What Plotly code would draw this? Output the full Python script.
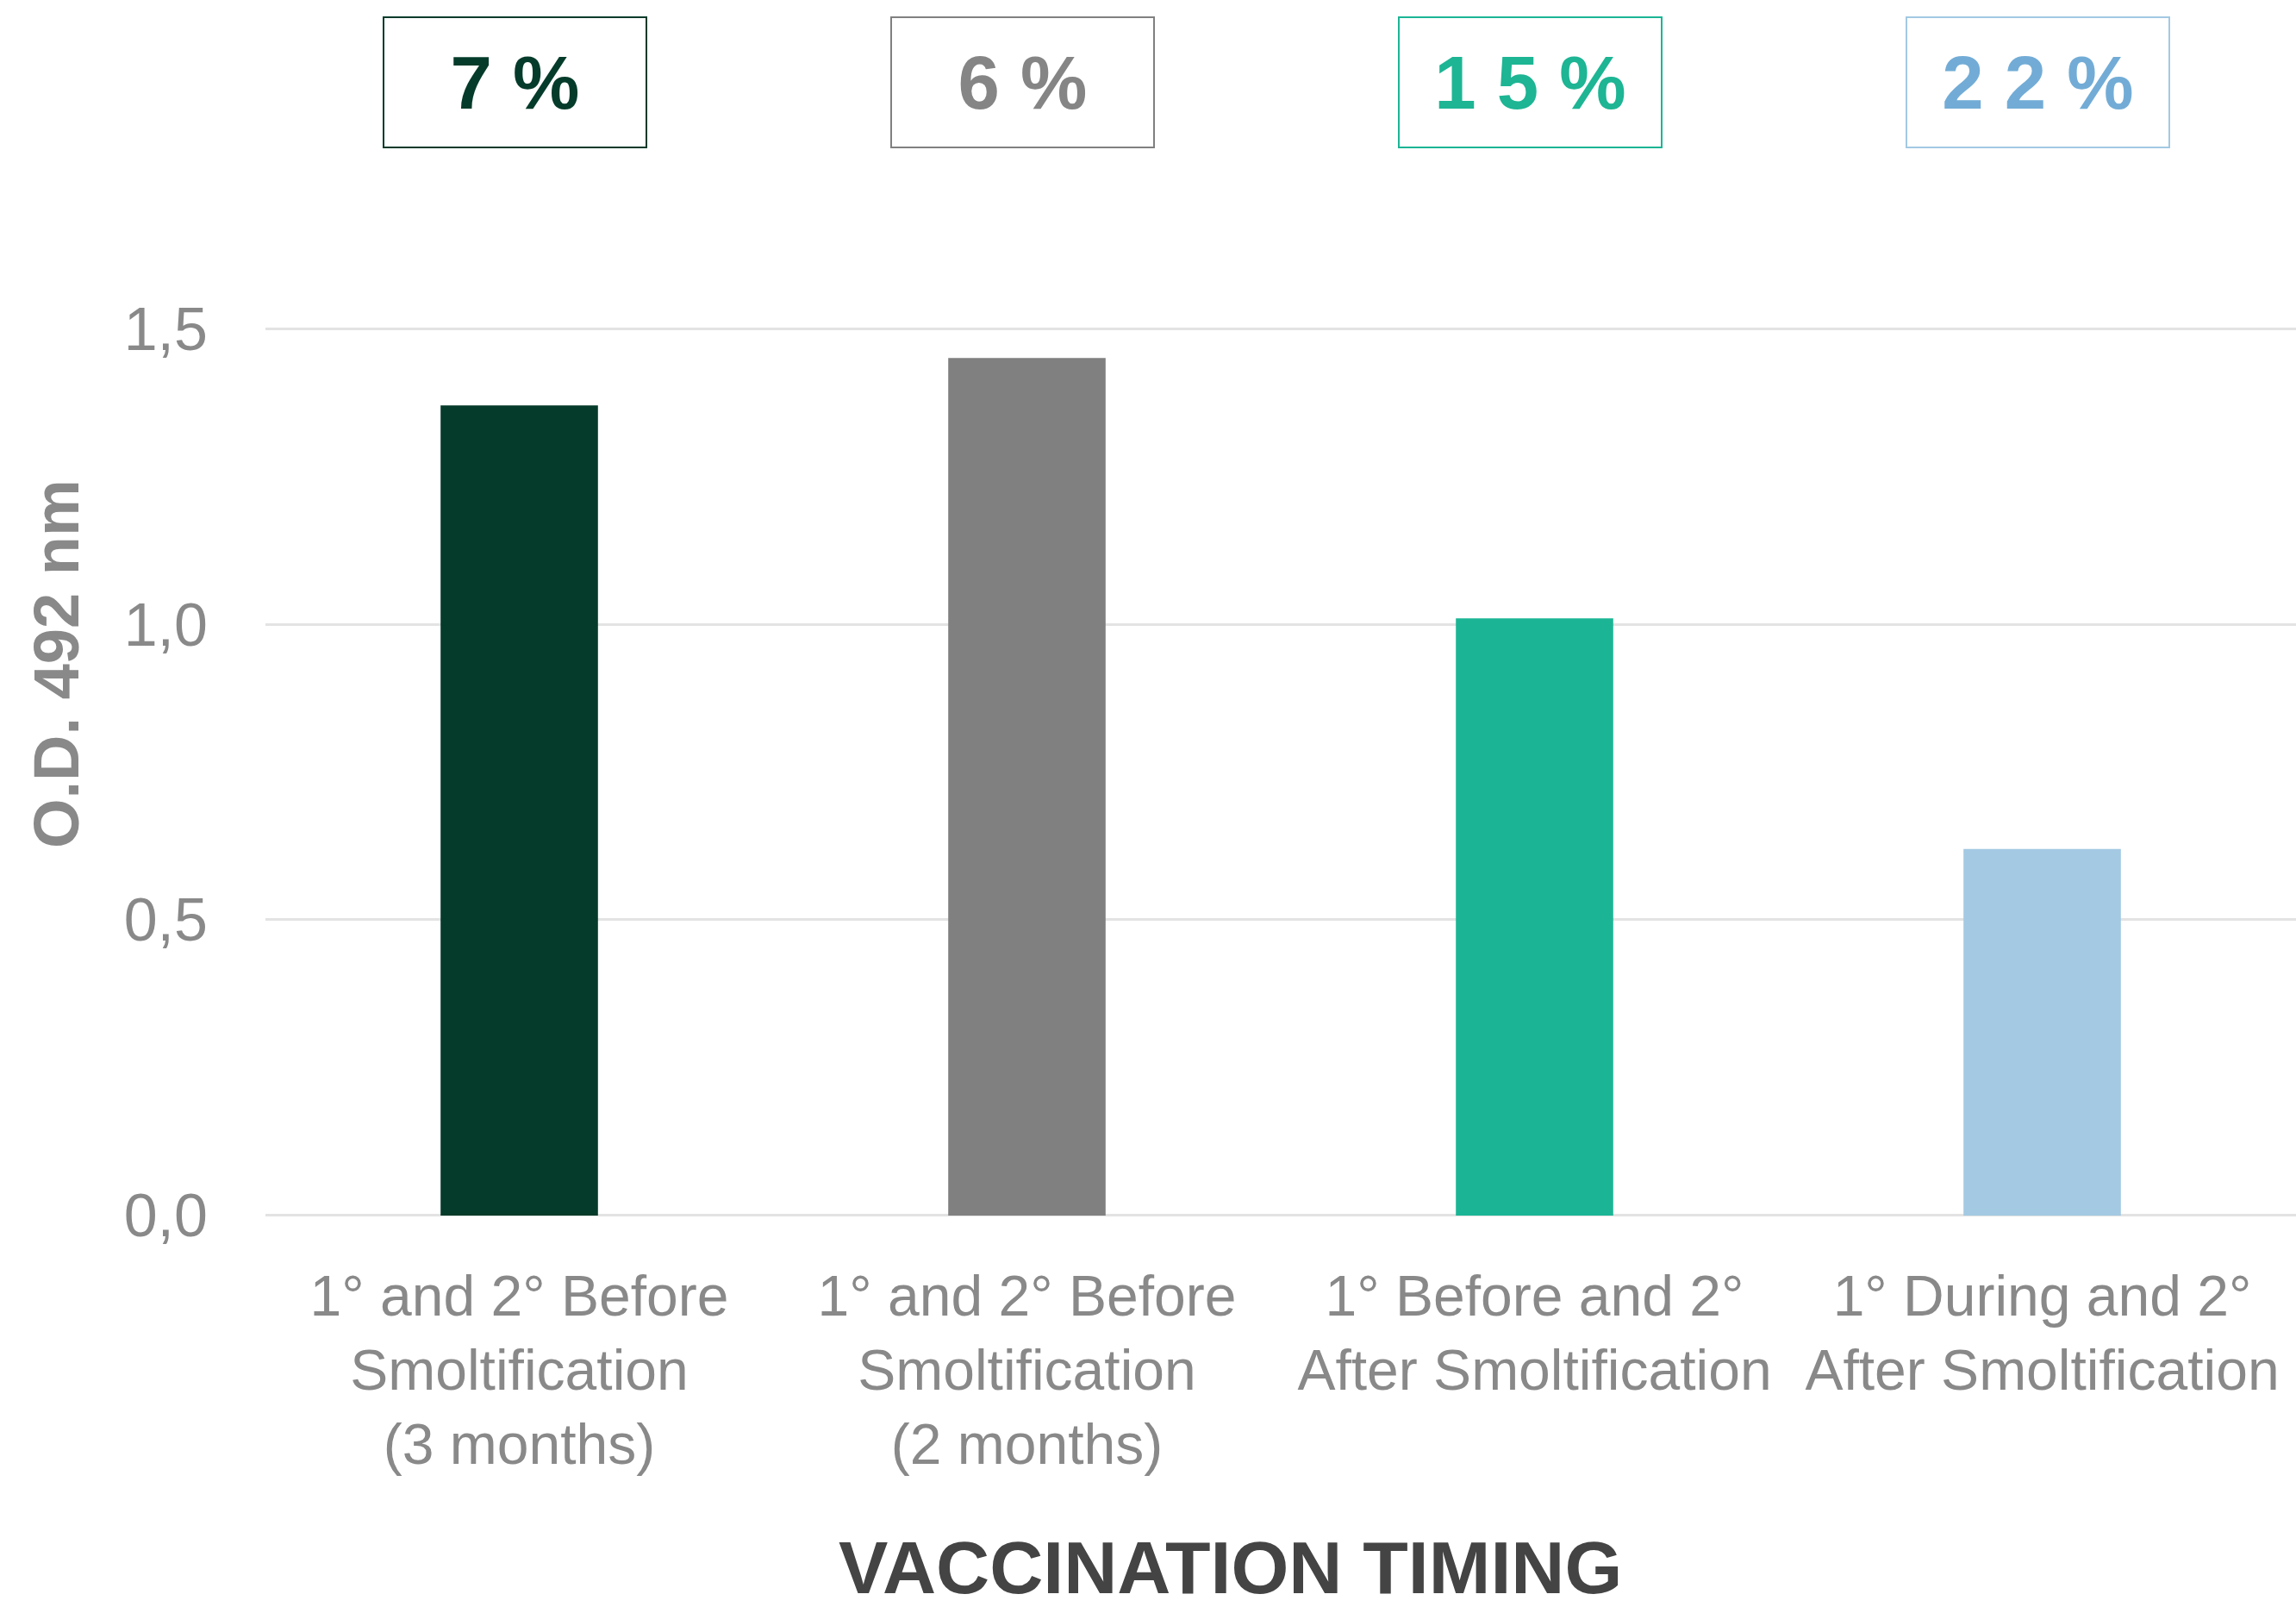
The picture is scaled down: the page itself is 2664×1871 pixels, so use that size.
import plotly.graph_objects as go

# data
categories = [
    "1° and 2° Before<br>Smoltification<br>(3 months)",
    "1° and 2° Before<br>Smoltification<br>(2 months)",
    "1° Before and 2°<br>After Smoltification",
    "1° During and 2°<br>After Smoltification",
]
od_values = [1.37, 1.45, 1.01, 0.62]
percent_labels = ["7 %", "6 %", "1 5 %", "2 2 %"]
y_ticks = [0.0, 0.5, 1.0, 1.5]
y_tick_labels = ["0,0", "0,5", "1,0", "1,5"]

bar_colors = ["#053b2a", "#808080", "#1bb595", "#a3c9e3"]
text_colors = ["#053b2a", "#858585", "#1db594", "#72acd6"]

SANS = "Liberation Sans, Arial, sans-serif"
GRAY = "#898989"

W, H = 2664, 1871
M_L, M_R, M_T, M_B = 308, 0, 379, 459
plot_h = H - M_T - M_B

fig = go.Figure()
fig.add_trace(go.Bar(
    x=categories,
    y=od_values,
    width=0.31,
    marker=dict(color=bar_colors, line=dict(width=0)),
    showlegend=False,
    hoverinfo="skip",
))

# boxed percentages above each bar
for cat, txt, col, bcol in zip(categories, percent_labels, text_colors, bar_colors):
    fig.add_annotation(
        x=cat, xref="x",
        y=1 + (M_T - 95) / plot_h, yref="paper",
        xshift=-5,
        text=f"<b>{txt}</b>",
        showarrow=False,
        font=dict(family=SANS, size=87, color=col),
        width=303, height=149,
        bordercolor=bcol, borderwidth=2, borderpad=0,
        xanchor="center", yanchor="middle",
    )

# y axis title
fig.add_annotation(
    x=(65 - M_L) / (W - M_L - M_R), xref="paper",
    y=(H - M_B - 770) / plot_h, yref="paper",
    text="<b>O.D. 492 nm</b>",
    textangle=-90,
    showarrow=False,
    font=dict(family=SANS, size=74, color=GRAY),
    xanchor="center", yanchor="middle",
)

# x axis title
fig.add_annotation(
    x=(1427 - M_L) / (W - M_L - M_R), xref="paper",
    y=(H - M_B - 1818) / plot_h, yref="paper",
    text="<b>VACCINATION TIMING</b>",
    showarrow=False,
    font=dict(family=SANS, size=86, color="#444444"),
    xanchor="center", yanchor="middle",
)

fig.update_layout(
    width=W, height=H,
    margin=dict(l=M_L, r=M_R, t=M_T, b=M_B),
    paper_bgcolor="white",
    plot_bgcolor="white",
    font=dict(family=SANS, color=GRAY),
    xaxis=dict(
        showgrid=False,
        showline=False,
        zeroline=False,
        ticks="",
        tickangle=0,
        automargin=False,
        tickfont=dict(family=SANS, size=66, color=GRAY),
        ticklabelstandoff=47,
    ),
    yaxis=dict(
        range=[-0.003, 1.503],
        tickvals=y_ticks,
        ticktext=y_tick_labels,
        showgrid=True,
        gridcolor="#e3e3e3",
        gridwidth=3,
        zeroline=False,
        showline=False,
        ticks="",
        automargin=False,
        tickfont=dict(family=SANS, size=70, color=GRAY),
        ticklabelstandoff=66,
    ),
)

# drop the browser's default 8px body margin so the figure sits at the page corner
fig.write_html(
    "out.html",
    config={"displayModeBar": False},
    post_script="document.body.style.margin='0';",
)
